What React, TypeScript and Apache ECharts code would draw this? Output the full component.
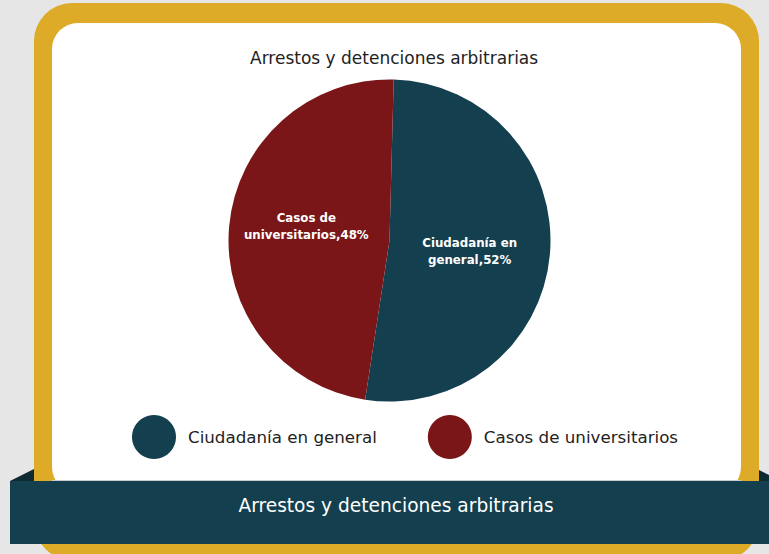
import React, { useEffect, useRef } from "react";
import * as echarts from "echarts";

const chartTitle = "Arrestos y detenciones arbitrarias";
const bannerText = "Arrestos y detenciones arbitrarias";
const categories = ["Ciudadanía en general", "Casos de universitarios"];
const labelNames = ["Ciudadanía en\ngeneral", "Casos de\nuniversitarios"];
const values = [52, 48];
const colors = ["#133F4E", "#7A1618"];

const FONT = "'DejaVu Sans', sans-serif";

export default function App() {
  const ref = useRef<HTMLDivElement>(null);
  useEffect(() => {
    if (!ref.current) return;
    const chart = echarts.init(ref.current, undefined, { renderer: "svg" });
    const labelOffsets = [
      [-3, 4],
      [0, -7],
    ];
    chart.setOption({
      animation: false,
      backgroundColor: "#E6E6E6",
      title: {
        text: chartTitle,
        left: 245,
        top: 44,
        textStyle: { fontFamily: FONT, fontSize: 17, fontWeight: "normal", color: "#222" },
      },
      legend: {
        left: 127,
        top: 410,
        itemWidth: 44,
        itemHeight: 44,
        itemGap: 51,
        icon: "circle",
        selectedMode: false,
        data: categories,
        textStyle: { fontFamily: FONT, fontSize: 16.7, color: "#222", padding: [0, 0, 0, 7] },
      },
      graphic: [
        {
          type: "rect",
          z: -10,
          silent: true,
          shape: { x: 34, y: 3, width: 725, height: 557, r: 38 },
          style: { fill: "#DEAB29" },
        },
        {
          type: "rect",
          z: -9,
          silent: true,
          shape: { x: 52, y: 23, width: 689, height: 470, r: 26 },
          style: { fill: "#FFFFFF" },
        },
        {
          type: "polygon",
          z: -8,
          silent: true,
          shape: { points: [[10, 481], [34, 469], [34, 481]] },
          style: { fill: "#0E2B33" },
        },
        {
          type: "polygon",
          z: -8,
          silent: true,
          shape: { points: [[759, 470], [769, 475], [769, 481], [759, 481]] },
          style: { fill: "#0E2B33" },
        },
        {
          type: "line",
          z: -7,
          silent: true,
          shape: { x1: 52, y1: 480.5, x2: 741, y2: 480.5 },
          style: { stroke: "#C8CCCE", lineWidth: 1 },
        },
        {
          type: "rect",
          z: -6,
          silent: true,
          shape: { x: 10, y: 481, width: 770, height: 63 },
          style: { fill: "#133F4E" },
        },
        {
          type: "text",
          z: -5,
          silent: true,
          x: 396,
          y: 505,
          style: {
            text: bannerText,
            fill: "#FFFFFF",
            fontFamily: FONT,
            fontSize: 18.6,
            align: "center",
            verticalAlign: "middle",
          },
        },
      ],
      series: [
        {
          type: "pie",
          center: [389.5, 240.5],
          radius: 161,
          startAngle: 88.5,
          clockwise: true,
          label: {
            position: "inside",
            formatter: "{b},{d}%",
            color: "#FFFFFF",
            fontFamily: FONT,
            fontWeight: "bold",
            fontSize: 11.8,
            lineHeight: 17,
            align: "center",
          },
          labelLine: { show: false },
          emphasis: { disabled: true },
          data: categories.map((c, i) => ({
            name: c,
            value: values[i],
            itemStyle: { color: colors[i] },
            label: {
              formatter: labelNames[i] + ",{d}%",
              offset: labelOffsets[i],
            },
          })),
        },
      ],
    });
    return () => chart.dispose();
  }, []);
  return (
    <div
      ref={ref}
      style={{ position: "absolute", left: 0, top: 0, width: 769, height: 554 }}
    />
  );
}
